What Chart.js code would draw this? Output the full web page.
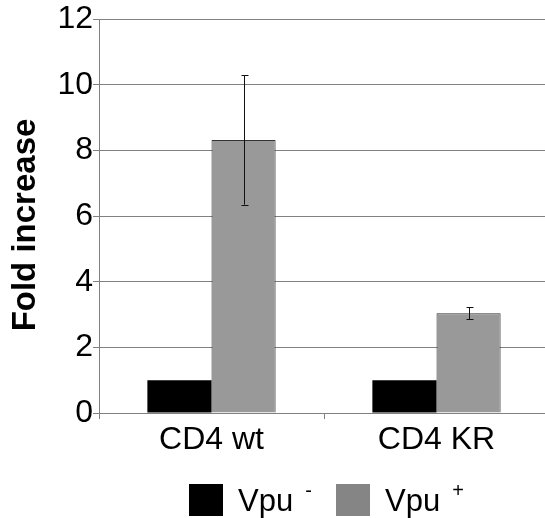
<!DOCTYPE html>
<html><head><meta charset="utf-8">
<script src="https://cdn.jsdelivr.net/npm/chart.js@4"></script>
<style>html,body{margin:0;padding:0;background:#fff;overflow:hidden;}#wrap{width:545px;height:518px;position:relative;overflow:hidden;}</style>
</head><body><div id="wrap"><canvas id="c" width="549" height="518"></canvas></div>
<script>
const categories = ["CD4 wt", "CD4 KR"];
const seriesNames = ["Vpu -", "Vpu +"];
const vpuMinus = [1.0, 1.0];
const vpuPlus = [8.32, 3.04];
const vpuPlusErr = [1.97, 0.18];
const yTicks = [0, 2, 4, 6, 8, 10, 12];
const yTitle = "Fold increase";

const FONT = "'Liberation Sans', Arial, sans-serif";

const errorBars = {
  id: 'errorBars',
  afterDatasetsDraw(chart) {
    const ctx = chart.ctx, y = chart.scales.y;
    const meta = chart.getDatasetMeta(1);
    ctx.save();
    ctx.strokeStyle = '#111'; ctx.lineWidth = 1;
    meta.data.forEach((bar, i) => {
      const v = vpuPlus[i], e = vpuPlusErr[i];
      const x = Math.round(bar.x) + 0.5;
      const yt = y.getPixelForValue(v + e), yb = y.getPixelForValue(v - e);
      ctx.beginPath();
      ctx.moveTo(x, yt); ctx.lineTo(x, yb);
      ctx.moveTo(x - 3, Math.round(yt) + 0.5); ctx.lineTo(x + 4, Math.round(yt) + 0.5);
      ctx.moveTo(x - 3, Math.round(yb) + 0.5); ctx.lineTo(x + 4, Math.round(yb) + 0.5);
      ctx.stroke();
    });
    ctx.restore();
  }
};

const legendPlugin = {
  id: 'customLegend',
  afterDraw(chart) {
    const ctx = chart.ctx;
    ctx.save();
    // y-axis title
    ctx.translate(26, 225);
    ctx.rotate(-Math.PI / 2);
    ctx.font = "bold 33px " + FONT;
    ctx.fillStyle = '#000';
    ctx.textAlign = 'center';
    ctx.textBaseline = 'middle';
    ctx.fillText(yTitle, 0, 0);
    ctx.restore();

    ctx.save();
    const items = [
      {color: '#000000', x: 189, sup: '-'},
      {color: '#858585', x: 336, sup: '+'}
    ];
    items.forEach(it => {
      ctx.fillStyle = it.color;
      ctx.fillRect(it.x, 484, 34, 32);
      ctx.fillStyle = '#000';
      ctx.font = "31px " + FONT;
      ctx.textBaseline = 'alphabetic';
      ctx.fillText('Vpu', it.x + 49, 511);
      const w = ctx.measureText('Vpu').width;
      ctx.font = "20px " + FONT;
      ctx.fillText(it.sup, it.x + 49 + w + 12, 497);
    });
    ctx.restore();
  }
};

new Chart(document.getElementById('c'), {
  type: 'bar',
  data: {
    labels: categories,
    datasets: [
      {label: seriesNames[0], data: vpuMinus, backgroundColor: '#000000', borderWidth: 0},
      {label: seriesNames[1], data: vpuPlus, backgroundColor: '#999999', borderColor: '#333333', borderWidth: 1}
    ]
  },
  options: {
    responsive: false,
    animation: false,
    devicePixelRatio: 1,
    layout: {padding: {top: 17, right: 0, left: 0, bottom: 0}},
    plugins: {legend: {display: false}, tooltip: {enabled: false}},
    datasets: {bar: {categoryPercentage: 0.57, barPercentage: 1.0}},
    scales: {
      x: {
        grid: {offset: true, drawOnChartArea: false, color: '#808080', tickLength: 6},
        border: {color: '#808080'},
        ticks: {color: '#000', font: {family: FONT, size: 32}, padding: 2},
        afterFit(s) { s.height = 105; }
      },
      y: {
        min: 0, max: 12,
        afterBuildTicks(s) { s.ticks = yTicks.map(v => ({value: v})); },
        grid: {color: '#808080', tickLength: 6},
        border: {color: '#808080'},
        ticks: {color: '#000', font: {family: FONT, size: 32}, padding: 0},
        afterFit(s) { s.width = 99; }
      }
    }
  },
  plugins: [errorBars, legendPlugin]
});
</script></body></html>
